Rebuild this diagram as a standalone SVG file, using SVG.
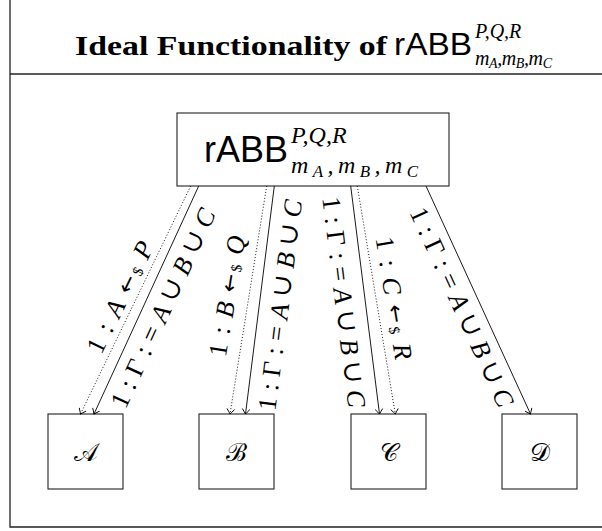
<svg xmlns="http://www.w3.org/2000/svg" width="602" height="531" viewBox="0 0 602 531">
<defs>
<style>
.frame{fill:none;stroke:#222;stroke-width:1.3}
.box{fill:#fff;stroke:#222;stroke-width:1.1}
.solid{fill:none;stroke:#000;stroke-width:0.9;marker-end:url(#arr)}
.dot{fill:none;stroke:#000;stroke-width:0.9;stroke-dasharray:1 2;marker-end:url(#arr)}
.mi{font-family:"Liberation Serif",serif;font-style:italic}
.rm{font-family:"Liberation Serif","DejaVu Serif",serif}
.sf{font-family:"Liberation Sans",sans-serif}
.lbl{font-family:"Liberation Serif","DejaVu Serif",serif;font-size:26px}
.ar{font-family:"DejaVu Sans",sans-serif;font-size:22px}
.cal{font-family:"DejaVu Serif","Noto Sans",serif;font-size:25px}
</style>
<marker id="arr" viewBox="-6 -5 7 10" refX="0" refY="0" markerWidth="7" markerHeight="10" markerUnits="userSpaceOnUse" orient="auto">
<path d="M-5,-3.8 Q-1.5,-1 0,0 Q-1.5,1 -5,3.8" fill="none" stroke="#000" stroke-width="0.9"/>
</marker>
</defs>
<rect width="602" height="531" fill="#fff"/>
<g id="frame">
<path class="frame" d="M10,-2 V527 H604"/>
<path class="frame" d="M10,74 H604"/>
</g>
<g id="title">
<text x="75" y="55" class="rm" font-weight="bold" font-size="28" textLength="312" lengthAdjust="spacingAndGlyphs">Ideal Functionality of</text>
<text x="394" y="55" class="sf" font-size="32" textLength="78" lengthAdjust="spacingAndGlyphs">rABB</text>
<text x="475" y="38" class="mi" font-size="20">P,Q,R</text>
<text x="475" y="65" class="mi" font-size="20" textLength="77">m<tspan font-size="14" dy="3">A</tspan><tspan dy="-3">,m</tspan><tspan font-size="14" dy="3">B</tspan><tspan dy="-3">,m</tspan><tspan font-size="14" dy="3">C</tspan></text>
</g>
<g id="rABB">
<rect class="box" x="177" y="113" width="272" height="73"/>
<text x="204" y="162" class="sf" font-size="36">rABB</text>
<text x="291" y="143" class="mi" font-size="24">P,Q,R</text>
<text x="291" y="173" class="mi" font-size="24" textLength="127">m<tspan font-size="17" dy="4">A</tspan><tspan dy="-4">,m</tspan><tspan font-size="17" dy="4">B</tspan><tspan dy="-4">,m</tspan><tspan font-size="17" dy="4">C</tspan></text>
</g>
<g id="nodeA">
<rect class="box" x="48" y="414" width="75" height="75"/>
<text x="85.5" y="461" class="cal" text-anchor="middle">𝒜</text>
</g>
<g id="nodeB">
<rect class="box" x="199" y="414" width="75" height="75"/>
<text x="236.5" y="461" class="cal" text-anchor="middle">ℬ</text>
</g>
<g id="nodeC">
<rect class="box" x="351" y="414" width="75" height="75"/>
<text x="388.5" y="461" class="cal" text-anchor="middle">𝒞</text>
</g>
<g id="nodeD">
<rect class="box" x="502" y="414" width="75" height="75"/>
<text x="539.5" y="461" class="cal" text-anchor="middle">𝒟</text>
</g>
<g id="connectors">
<path class="dot" d="M190.7,186 L80.5,414"/>
<path class="solid" d="M198.7,186 L94,414"/>
<path class="dot" d="M266.7,186 L230,414"/>
<path class="solid" d="M274.3,186 L245.5,414"/>
<path class="solid" d="M350.7,186 L379.5,414"/>
<path class="dot" d="M357.3,186 L395.3,414"/>
<path class="solid" d="M426,186 L530.5,414"/>
</g>
<g id="labels" class="lbl">
<text transform="translate(120,297) rotate(-64.2)" text-anchor="middle" dominant-baseline="central" textLength="121">1:<tspan class="mi">A</tspan><tspan class="ar">←</tspan><tspan font-size="15" dx="-7" dy="5">$</tspan><tspan class="mi" dy="-5">P</tspan></text>
<text transform="translate(163,308) rotate(-65.3)" text-anchor="middle" dominant-baseline="central" textLength="216">1:Γ:=<tspan class="mi">A</tspan>∪<tspan class="mi">B</tspan>∪<tspan class="mi">C</tspan></text>
<text transform="translate(227,296) rotate(-80.9)" text-anchor="middle" dominant-baseline="central" textLength="122">1:<tspan class="mi">B</tspan><tspan class="ar">←</tspan><tspan font-size="15" dx="-7" dy="5">$</tspan><tspan class="mi" dy="-5">Q</tspan></text>
<text transform="translate(280,305) rotate(-82.8)" text-anchor="middle" dominant-baseline="central" textLength="212">1:Γ:=<tspan class="mi">A</tspan>∪<tspan class="mi">B</tspan>∪<tspan class="mi">C</tspan></text>
<text transform="translate(344,302) rotate(82.8)" text-anchor="middle" dominant-baseline="central" textLength="212">1:Γ:=<tspan class="mi">A</tspan>∪<tspan class="mi">B</tspan>∪<tspan class="mi">C</tspan></text>
<text transform="translate(394,298) rotate(80.5)" text-anchor="middle" dominant-baseline="central" textLength="124">1:<tspan class="mi">C</tspan><tspan class="ar">←</tspan><tspan font-size="15" dx="-7" dy="5">$</tspan><tspan class="mi" dy="-5">R</tspan></text>
<text transform="translate(462,307) rotate(65.4)" text-anchor="middle" dominant-baseline="central" textLength="216">1:Γ:=<tspan class="mi">A</tspan>∪<tspan class="mi">B</tspan>∪<tspan class="mi">C</tspan></text>
</g>
</svg>
